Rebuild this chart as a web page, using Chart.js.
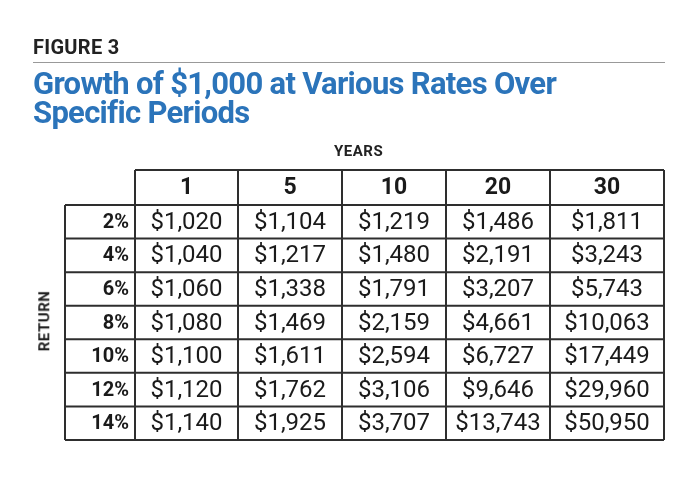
<!DOCTYPE html>
<html>
<head>
<meta charset="utf-8">
<script src="https://cdn.jsdelivr.net/npm/chart.js@4"></script>
<style>
  body { margin: 0; background: #fff; font-family: Roboto, sans-serif; }
  #wrap { position: relative; width: 700px; height: 498px; }
  .t { position: absolute; margin: 0; }
  #fig { left: 33px; top: 35px; font-size: 20px; font-weight: bold; color: #222; letter-spacing: 0.3px; }
  #rule { left: 33px; top: 62px; width: 632px; border-top: 1px solid #999; }
  #title { left: 33px; top: 69px; font-size: 31px; font-weight: bold; color: #2b74ba; line-height: 29px; letter-spacing: -0.7px; }
  #years { left: 334px; top: 142px; font-size: 15px; font-weight: bold; color: #222; letter-spacing: 0.5px; }
  #ret { left: 14px; top: 312px; font-size: 15px; font-weight: bold; color: #222; letter-spacing: 0.5px; transform: rotate(-90deg); }
  canvas { position: absolute; left: 0; top: 0; }
</style>
</head>
<body>
<div id="wrap">
  <canvas id="c" width="700" height="498"></canvas>
  <p class="t" id="fig">FIGURE 3</p>
  <div class="t" id="rule"></div>
  <p class="t" id="title">Growth of $1,000 at Various Rates Over<br>Specific Periods</p>
  <p class="t" id="years">YEARS</p>
  <p class="t" id="ret">RETURN</p>
</div>
<script>
'use strict';

// table data
var years = ["1", "5", "10", "20", "30"];
var rates = ["2%", "4%", "6%", "8%", "10%", "12%", "14%"];
var y1  = ["$1,020", "$1,040", "$1,060", "$1,080", "$1,100", "$1,120", "$1,140"];
var y5  = ["$1,104", "$1,217", "$1,338", "$1,469", "$1,611", "$1,762", "$1,925"];
var y10 = ["$1,219", "$1,480", "$1,791", "$2,159", "$2,594", "$3,106", "$3,707"];
var y20 = ["$1,486", "$2,191", "$3,207", "$4,661", "$6,727", "$9,646", "$13,743"];
var y30 = ["$1,811", "$3,243", "$5,743", "$10,063", "$17,449", "$29,960", "$50,950"];
var columns = [y1, y5, y10, y20, y30];

// column / row edges in scale units
var colEdges = [0, 70, 173, 277, 381, 485, 599];
var rowEdges = [0, 35];
for (let i = 1; i <= rates.length; i++) rowEdges.push(35 + i * 235 / rates.length);

var tablePlugin = {
  id: 'table',
  afterDraw: function(chart) {
    var ctx = chart.ctx;
    var xs = chart.scales.x, ys = chart.scales.y;
    var X = colEdges.map(function(v) { return xs.getPixelForValue(v); });
    var Y = rowEdges.map(function(v) { return ys.getPixelForValue(v); });
    ctx.save();
    ctx.strokeStyle = '#2e2e2e';
    ctx.lineWidth = 2;
    // horizontal lines
    for (let r = 0; r < Y.length; r++) {
      ctx.beginPath();
      ctx.moveTo(r === 0 ? X[1] : X[0], Y[r]);
      ctx.lineTo(X[X.length - 1], Y[r]);
      ctx.stroke();
    }
    // vertical lines
    for (let c = 0; c < X.length; c++) {
      ctx.beginPath();
      ctx.moveTo(X[c], c === 0 ? Y[1] : Y[0]);
      ctx.lineTo(X[c], Y[Y.length - 1]);
      ctx.stroke();
    }
    ctx.fillStyle = '#1a1a1a';
    ctx.textBaseline = 'middle';
    // header
    ctx.textAlign = 'center';
    ctx.font = 'bold 23px Roboto';
    years.forEach(function(yr, c) {
      ctx.fillText(yr, (X[c + 1] + X[c + 2]) / 2, (Y[0] + Y[1]) / 2 + 1);
    });
    // row labels
    ctx.textAlign = 'right';
    ctx.font = 'bold 20px Roboto';
    rates.forEach(function(rt, r) {
      ctx.fillText(rt, X[1] - 6, (Y[r + 1] + Y[r + 2]) / 2 + 1);
    });
    // values
    ctx.textAlign = 'center';
    ctx.font = '24px Roboto';
    columns.forEach(function(col, c) {
      col.forEach(function(v, r) {
        ctx.fillText(v, (X[c + 1] + X[c + 2]) / 2, (Y[r + 1] + Y[r + 2]) / 2 + 1);
      });
    });
    ctx.restore();
  }
};

new Chart(document.getElementById('c').getContext('2d'), {
  type: 'scatter',
  data: { datasets: [{ data: [] }] },
  options: {
    responsive: false,
    animation: false,
    layout: { padding: { left: 65, right: 36, top: 170, bottom: 58 } },
    plugins: { legend: { display: false }, tooltip: { enabled: false } },
    scales: {
      x: { type: 'linear', min: 0, max: 599, display: false },
      y: { type: 'linear', min: 0, max: 270, reverse: true, display: false }
    }
  },
  plugins: [tablePlugin]
});
</script>
</body>
</html>
